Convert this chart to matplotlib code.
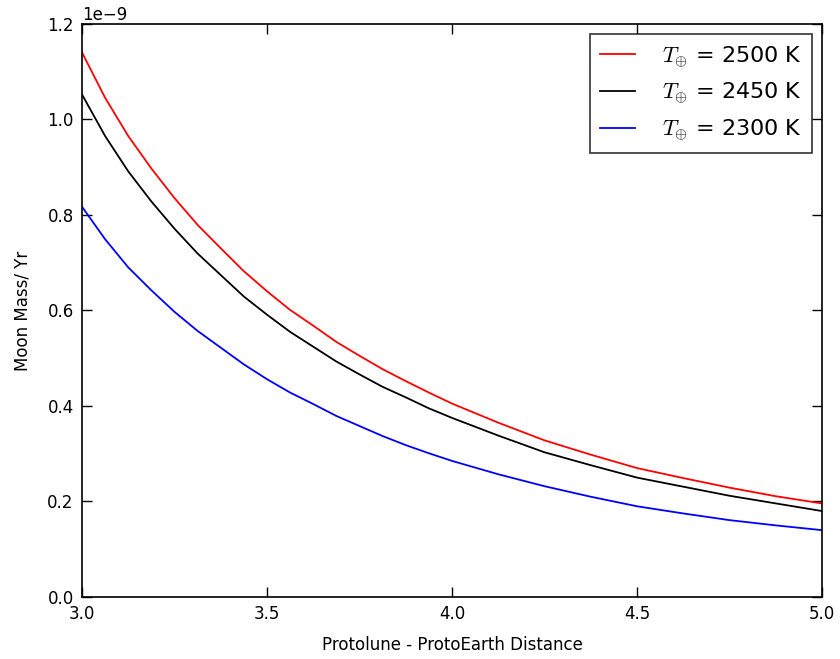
import numpy as np
import matplotlib
matplotlib.use("Agg")
import matplotlib.pyplot as plt

# distance (x) and accretion rate readings (in units of 1e-9 moon masses / yr)
distance = [3.0, 3.0625, 3.125, 3.1875, 3.25, 3.3125, 3.375, 3.4375, 3.5,
            3.5625, 3.625, 3.6875, 3.75, 3.8125, 3.875, 3.9375, 4.0,
            4.125, 4.25, 4.375, 4.5, 4.625, 4.75, 4.875, 5.0]
rate_2500 = [1.140, 1.045, 0.965, 0.897, 0.835, 0.779, 0.730, 0.682, 0.640,
             0.601, 0.568, 0.534, 0.505, 0.477, 0.452, 0.428, 0.405,
             0.365, 0.328, 0.298, 0.270, 0.249, 0.229, 0.211, 0.196]
rate_2450 = [1.052, 0.965, 0.891, 0.828, 0.771, 0.719, 0.674, 0.629, 0.591,
             0.555, 0.524, 0.493, 0.466, 0.440, 0.418, 0.395, 0.375,
             0.338, 0.303, 0.276, 0.250, 0.231, 0.212, 0.196, 0.180]
rate_2300 = [0.817, 0.749, 0.690, 0.642, 0.597, 0.557, 0.522, 0.487, 0.456,
             0.428, 0.404, 0.379, 0.358, 0.337, 0.318, 0.301, 0.285,
             0.257, 0.232, 0.210, 0.190, 0.175, 0.161, 0.150, 0.140]

labels = [r"$T_{\oplus}$ = 2500 K", r"$T_{\oplus}$ = 2450 K", r"$T_{\oplus}$ = 2300 K"]
colors = ["red", "black", "blue"]

plt.rcParams["font.family"] = "DejaVu Sans"
plt.rcParams["mathtext.fontset"] = "cm"

fig = plt.figure(figsize=(8.4, 6.59), dpi=100)
ax = fig.add_axes([0.0976, 0.094, 0.881, 0.870])

x = np.array(distance)
for vals, lab, col in zip([rate_2500, rate_2450, rate_2300], labels, colors):
    ax.plot(x, np.array(vals) * 1e-9, color=col, lw=1.3, label=lab)

ax.set_xlim(3.0, 5.0)
ax.set_ylim(0, 1.2e-9)
ax.set_xticks([3.0, 3.5, 4.0, 4.5, 5.0])
ax.set_yticks(np.arange(0, 1.21, 0.2) * 1e-9)
ax.tick_params(direction="in", top=True, right=True, length=7, width=1, labelsize=12, pad=6)
ax.yaxis.get_offset_text().set_fontsize(12)
for s in ax.spines.values():
    s.set_linewidth(1.2)

ax.set_xlabel("Protolune - ProtoEarth Distance", fontsize=12, labelpad=9)
ax.set_ylabel("Moon Mass/ Yr", fontsize=12, labelpad=11)

leg = ax.legend(loc="upper right", fontsize=16, fancybox=False, handlelength=1.6,
                borderpad=0.45, handletextpad=1.2, labelspacing=0.5, borderaxespad=0.45)
leg.get_frame().set_edgecolor("black")
leg.get_frame().set_linewidth(1.2)

fig.savefig("out.png", dpi=100, facecolor="white")
